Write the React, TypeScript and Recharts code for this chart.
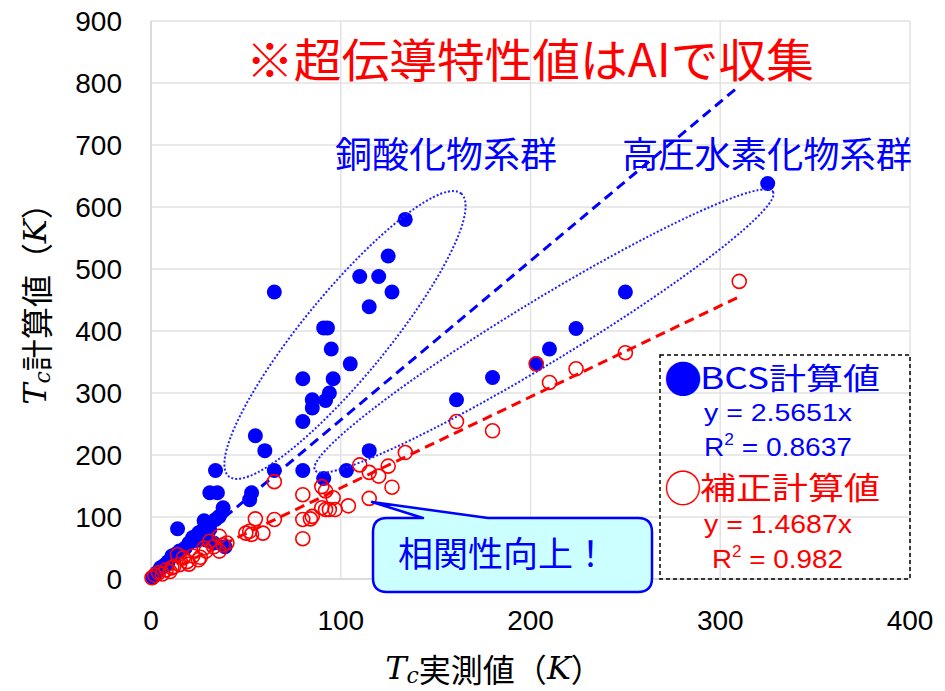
import { ScatterChart, Scatter, XAxis, YAxis, CartesianGrid, ReferenceLine } from 'recharts'

// Tc: measured (x) vs calculated (y), K
const bcsPoints = [
  [325, 638], [250, 463], [224, 404], [210, 371], [203, 347], [180, 325], [161, 289],
  [134, 580], [125, 521], [110, 488], [120, 488], [127, 463], [65, 463], [115, 439],
  [91, 405], [93, 405], [95, 371], [105, 347], [80, 323], [96, 323], [94, 300], [85, 289],
  [92, 288], [85, 276], [80, 254], [55, 231], [60, 207], [115, 207],
  [34, 175], [65, 175], [80, 175], [103, 175], [91, 162],
  [31, 139], [35, 139], [53, 139], [52, 128], [38, 115], [36, 101], [34, 96], [28, 94],
  [14, 81], [26, 76], [31, 80], [25, 74], [22, 67], [20, 58], [33, 58], [29, 63], [39, 52],
  [18, 50], [24, 62], [15, 45], [13, 40], [11, 37], [9, 28], [7, 22], [5, 18], [3, 10], [1, 3],
]

const correctedPoints = [
  [310, 480], [250, 365], [224, 339], [210, 317], [203, 347], [180, 239], [161, 254],
  [134, 204], [110, 184], [125, 182], [115, 172], [120, 166], [127, 148], [115, 130],
  [104, 118], [90, 149], [92, 142], [80, 136], [96, 131], [92, 112], [94, 112], [97, 112],
  [90, 115], [80, 96], [84, 97], [85, 101], [80, 65], [65, 157], [55, 97], [65, 96],
  [52, 77], [59, 74], [53, 72], [50, 74], [36, 69], [31, 61], [38, 55], [40, 58], [33, 52],
  [28, 50], [36, 45], [29, 45], [26, 35], [25, 31], [22, 37], [19, 28], [17, 34], [20, 24],
  [15, 23], [14, 39], [12, 20], [11, 18], [10, 12], [8, 15], [6, 8], [4, 10], [2, 6], [0.5, 2],
]

const xTicks = [0, 100, 200, 300, 400]
const yTicks = [0, 100, 200, 300, 400, 500, 600, 700, 800, 900]

const BCS_SLOPE = 2.5651
const CORR_SLOPE = 1.4687
const FIT_X_MAX = 310

const bcsData = bcsPoints.map(([x, y]) => ({ x, y }))
const corrData = correctedPoints.map(([x, y]) => ({ x, y }))

const W = 945
const H = 691
const CJK = '"Noto Sans CJK JP", "Noto Sans", sans-serif'
const NUM = '"Liberation Sans", Arial, sans-serif'
const SERIF = '"DejaVu Serif", "Liberation Serif", serif'

const BlueDot = (p: any) => <circle cx={p.cx} cy={p.cy} r={7.5} fill="#0000ff" />
const RedRing = (p: any) => (
  <circle cx={p.cx} cy={p.cy} r={7} fill="none" stroke="#ff0000" strokeWidth={1.6} />
)

export default function App() {
  return (
    <div style={{ position: 'absolute', left: 0, top: 0, width: W, height: H, background: '#fff' }}>
      <ScatterChart width={W} height={H} margin={{ top: 21, right: 35, bottom: 52, left: 0 }}>
        <CartesianGrid stroke="#e2e2e2" strokeWidth={1.5} />
        <XAxis
          type="number" dataKey="x" domain={[0, 400]} ticks={xTicks} height={60}
          axisLine={{ stroke: '#d6d6d6', strokeWidth: 1.5 }} tickLine={false} tickMargin={25}
          tick={{ fontSize: 28, fill: '#000', fontFamily: NUM }}
        />
        <YAxis
          type="number" dataKey="y" domain={[0, 900]} ticks={yTicks} width={151}
          axisLine={{ stroke: '#d6d6d6', strokeWidth: 1.5 }} tickLine={false} tickMargin={23}
          tick={{ fontSize: 28, fill: '#000', fontFamily: NUM }}
        />
        <Scatter data={bcsData} shape={BlueDot} isAnimationActive={false} />
        <Scatter data={corrData} shape={RedRing} isAnimationActive={false} />
        <ReferenceLine
          segment={[{ x: 0, y: 0 }, { x: FIT_X_MAX, y: BCS_SLOPE * FIT_X_MAX }]}
          stroke="#0000ff" strokeWidth={3} strokeDasharray="10 6"
        />
        <ReferenceLine
          segment={[{ x: 0, y: 0 }, { x: FIT_X_MAX, y: CORR_SLOPE * FIT_X_MAX }]}
          stroke="#ff0000" strokeWidth={3} strokeDasharray="10 6"
        />
      </ScatterChart>

      <svg width={W} height={H} style={{ position: 'absolute', left: 0, top: 0, pointerEvents: 'none' }}>
        {/* group outlines */}
        <ellipse cx={345} cy={335} rx={183} ry={42} transform="rotate(-50.6 345 335)"
          fill="none" stroke="#1f1fff" strokeWidth={2} strokeDasharray="2 2" />
        <ellipse cx={544} cy={331} rx={268} ry={31} transform="rotate(-31.3 544 331)"
          fill="none" stroke="#1f1fff" strokeWidth={2} strokeDasharray="2 2" />

        <text x={530} y={57} textAnchor="middle" dominantBaseline="central" fontFamily={CJK}
          fontSize={46} fill="#ff0000" textLength={568} lengthAdjust="spacingAndGlyphs">
          ※超伝導特性値はAIで収集
        </text>
        <text x={446} y={152} textAnchor="middle" dominantBaseline="central" fontFamily={CJK}
          fontSize={36} fill="#0000ff" textLength={222} lengthAdjust="spacingAndGlyphs">
          銅酸化物系群
        </text>
        <text x={767} y={152} textAnchor="middle" dominantBaseline="central" fontFamily={CJK}
          fontSize={36} fill="#0000ff" textLength={290} lengthAdjust="spacingAndGlyphs">
          高圧水素化物系群
        </text>

        {/* legend box */}
        <rect x={660} y={355} width={250} height={224} fill="none" stroke="#000" strokeWidth={1.5} strokeDasharray="4 3" />
        <text x={664} y={376} dominantBaseline="central" fontFamily={CJK} fontSize={38} fill="#0000ff">●</text>
        <text x={700} y={376} dominantBaseline="central" fontFamily={CJK} fontSize={30} fill="#0000ff"
          textLength={180} lengthAdjust="spacingAndGlyphs">BCS計算値</text>
        <text x={704} y={421} fontFamily={NUM} fontSize={24} fill="#0000ff" textLength={148} lengthAdjust="spacingAndGlyphs">
          y = 2.5651x
        </text>
        <text x={704} y={456} fontFamily={NUM} fontSize={26} fill="#0000ff" textLength={148} lengthAdjust="spacingAndGlyphs">
          <tspan>R</tspan><tspan fontSize={16} dy={-11}>2</tspan><tspan dy={11}> = 0.8637</tspan>
        </text>
        <text x={664} y={485} dominantBaseline="central" fontFamily={CJK} fontSize={38} fill="#ff0000">○</text>
        <text x={700} y={485} dominantBaseline="central" fontFamily={CJK} fontSize={31} fill="#ff0000"
          textLength={180} lengthAdjust="spacingAndGlyphs">補正計算値</text>
        <text x={704} y={533} fontFamily={NUM} fontSize={26} fill="#ff0000" textLength={148} lengthAdjust="spacingAndGlyphs">
          y = 1.4687x
        </text>
        <text x={712} y={568} fontFamily={NUM} fontSize={26} fill="#ff0000" textLength={131} lengthAdjust="spacingAndGlyphs">
          <tspan>R</tspan><tspan fontSize={16} dy={-11}>2</tspan><tspan dy={11}> = 0.982</tspan>
        </text>

        {/* callout */}
        <path
          d="M 387 518 L 423 518 L 372 502 L 488 518 L 638 518 Q 652 518 652 532 L 652 578 Q 652 592 638 592 L 387 592 Q 373 592 373 578 L 373 532 Q 373 518 387 518 Z"
          fill="#ccffff" stroke="#0000ff" strokeWidth={2.5} strokeLinejoin="round"
        />
        <text x={503} y={551} textAnchor="middle" dominantBaseline="central" fontFamily={CJK}
          fontSize={35} fill="#0000ff">相関性向上！</text>

        {/* axis titles */}
        <text x={494} y={668} textAnchor="middle" dominantBaseline="central" fontSize={32} fill="#000">
          <tspan fontFamily={SERIF} fontStyle="italic">T</tspan>
          <tspan fontFamily={SERIF} fontStyle="italic" fontSize={22} dy={7}>c</tspan>
          <tspan fontFamily={CJK} dy={-7}>実測値（</tspan>
          <tspan fontFamily={SERIF} fontStyle="italic">K</tspan>
          <tspan fontFamily={CJK}>）</tspan>
        </text>
        <text x={35} y={296} transform="rotate(-90 35 296)" textAnchor="middle" dominantBaseline="central" fontSize={32} fill="#000">
          <tspan fontFamily={SERIF} fontStyle="italic">T</tspan>
          <tspan fontFamily={SERIF} fontStyle="italic" fontSize={22} dy={7}>c</tspan>
          <tspan fontFamily={CJK} dy={-7}>計算値（</tspan>
          <tspan fontFamily={SERIF} fontStyle="italic">K</tspan>
          <tspan fontFamily={CJK}>）</tspan>
        </text>
      </svg>
    </div>
  )
}
